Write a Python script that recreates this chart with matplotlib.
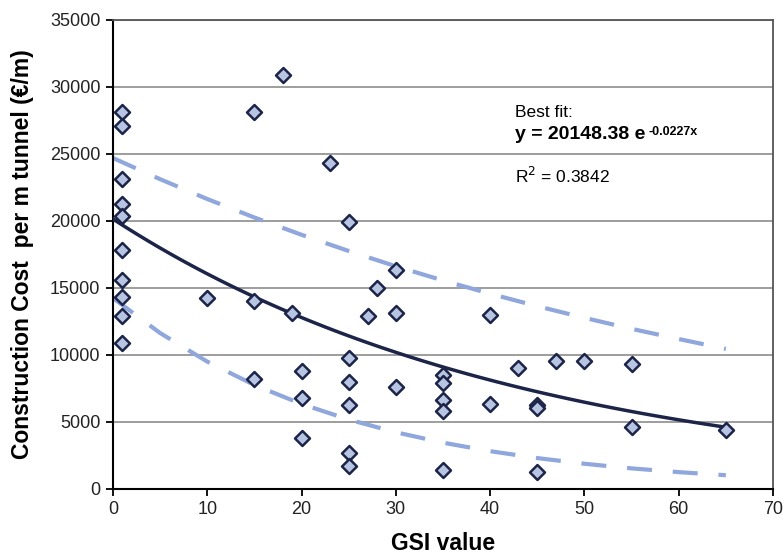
import matplotlib
matplotlib.use("Agg")
import matplotlib.pyplot as plt
import numpy as np

plt.rcParams['font.family'] = ['Liberation Sans', 'DejaVu Sans']

# GSI value vs construction cost (EUR/m)
gsi = [1, 1, 1, 1, 1, 1, 1, 1, 1, 1,
       10, 15, 15, 15, 18, 19, 20, 20, 20, 23,
       25, 25, 25, 25, 25, 25, 27, 28, 30, 30, 30,
       35, 35, 35, 35, 35, 40, 40, 43, 45, 45, 45,
       47, 50, 55, 55, 65]
cost = [28130, 27100, 23130, 21270, 20370, 17840, 15600, 14330, 12900, 10900,
        14250, 28130, 14000, 8200, 30900, 13130, 8830, 6810, 3830, 24330,
        19930, 9800, 7960, 6270, 2660, 1740, 12930, 15020, 16340, 13110, 7630,
        8500, 7890, 6640, 5850, 1420, 12990, 6320, 9000, 6300, 6020, 1290,
        9550, 9570, 9300, 4650, 4400]

# band lines
band_x = [0, 5, 10, 15, 20, 25, 30, 35, 40, 45, 50, 55, 60, 65]
upper = [24700, 23120, 21640, 20260, 18970, 17760, 16620, 15560, 14570,
         13640, 12770, 11950, 11190, 10450]
lower = [14250, 11640, 9505, 7760, 6340, 5180, 4230, 3455, 2820,
         2305, 1880, 1536, 1255, 1025]

# best fit y = 20148.38 e^(-0.0227x)
a, b = 20148.38, -0.0227
fit_x = np.linspace(0, 65, 100)
fit_y = a * np.exp(b * fit_x)

fig = plt.figure(figsize=(7.84, 5.55), dpi=100)
ax = fig.add_axes([0.144, 0.119, 0.842, 0.845])

ax.plot(band_x, upper, color='#8fa7dc', lw=3, dashes=(6, 5), zorder=2)
ax.plot(band_x, lower, color='#8fa7dc', lw=3, dashes=(6, 5), zorder=2)
ax.plot(fit_x, fit_y, color='#1c2448', lw=2.5, zorder=3)
ax.scatter(gsi, cost, marker='D', s=58, facecolor='#b7c5e3',
           edgecolor='#1c2448', linewidth=1.8, zorder=4)

ax.set_xlim(0, 70)
ax.set_ylim(0, 35000)
ax.set_xticks(range(0, 71, 10))
ax.set_yticks(range(0, 35001, 5000))
ax.yaxis.grid(True, color='#8c8c8c', lw=1.2)
ax.set_axisbelow(True)

ax.spines['left'].set_color('black')
ax.spines['bottom'].set_color('black')
ax.spines['left'].set_linewidth(1.5)
ax.spines['bottom'].set_linewidth(1.5)
ax.spines['top'].set_color('#555555')
ax.spines['right'].set_color('#555555')
ax.spines['top'].set_linewidth(1.3)
ax.spines['right'].set_linewidth(1.3)
ax.tick_params(direction='out', length=5, width=1.3, labelsize=13,
               colors='black', labelcolor='#222222', pad=4)

ax.set_xlabel('GSI value', fontsize=16.5, fontweight='bold')
ax.set_ylabel('Construction Cost  per m tunnel (\u20ac/m)', fontsize=16.5,
              fontweight='bold')
ax.xaxis.set_label_coords(0.5, -0.092)
ax.yaxis.set_label_coords(-0.12, 0.5)

ax.text(42.6, 27760, 'Best fit:', fontsize=12.5, va='baseline')
eq = ax.text(42.6, 26100, 'y = 20148.38 e', fontsize=14, fontweight='bold',
             va='baseline')
ax.annotate('-0.0227x', xy=(1.0, 1.0), xycoords=eq, xytext=(2.5, 0),
            textcoords='offset points', fontsize=9, fontweight='bold',
            va='top', ha='left')
ax.text(42.6, 22840, r'R$^2$ = 0.3842', fontsize=12.5, va='baseline')

fig.savefig('out.png', dpi=100)
